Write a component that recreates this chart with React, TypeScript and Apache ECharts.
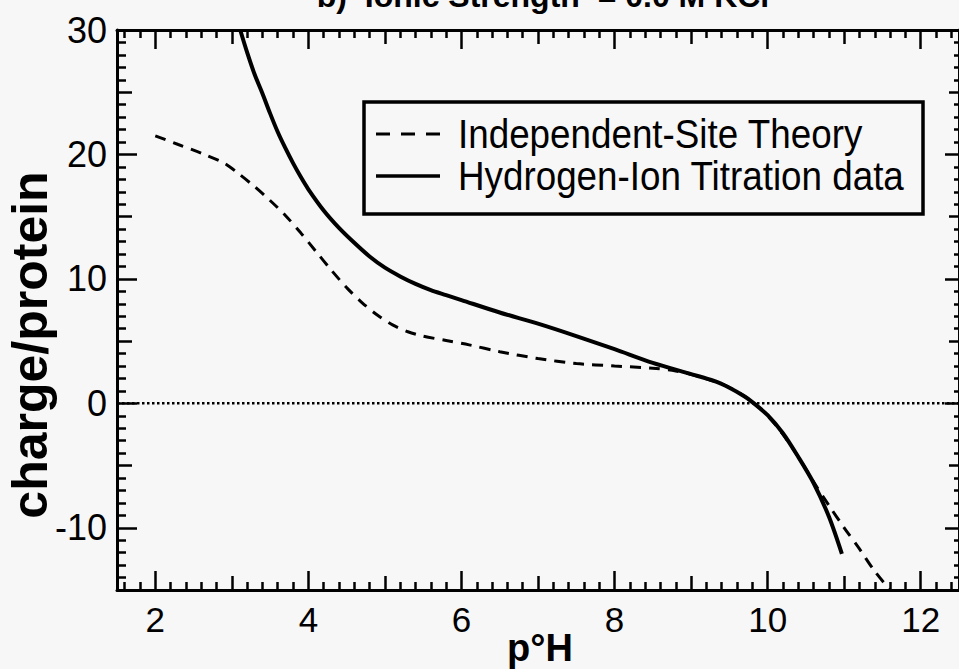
import React, { useEffect, useRef } from "react";
import * as echarts from "echarts";

// ---- data ----
const titrationName = "Hydrogen-Ion Titration data";
const theoryName = "Independent-Site Theory";
const titleText = "b)  Ionic Strength  = 0.0 M KCl";
const xAxisName = "p°H";
const yAxisName = "charge/protein";

const titrationX = [3.11, 3.2, 3.3, 3.4, 3.5, 3.6, 3.7, 3.8, 3.9, 4.0, 4.2, 4.4, 4.6, 4.8, 5.0, 5.2, 5.4, 5.6, 5.8, 6.0, 6.5, 7.0, 7.5, 8.0, 8.5, 9.0, 9.3, 9.5, 9.7, 9.8, 10.0, 10.2, 10.4, 10.6, 10.8, 10.97];
const titrationY = [30.0, 28.2, 26.4, 24.9, 23.3, 21.8, 20.5, 19.3, 18.2, 17.2, 15.5, 14.1, 12.9, 11.8, 10.9, 10.2, 9.6, 9.1, 8.7, 8.3, 7.3, 6.4, 5.4, 4.35, 3.25, 2.35, 1.8, 1.25, 0.55, 0.1, -0.95, -2.4, -4.3, -6.4, -9.1, -12.1];

const theoryX = [2.0, 2.3, 2.6, 2.9, 3.1, 3.3, 3.5, 3.7, 3.9, 4.1, 4.3, 4.5, 4.7, 4.9, 5.1, 5.3, 5.5, 5.8, 6.1, 6.5, 7.0, 7.5, 8.0, 8.5, 8.8, 9.1, 9.4, 9.6, 9.8, 10.0, 10.2, 10.4, 10.6, 10.8, 11.0, 11.2, 11.4, 11.6];
const theoryY = [21.5, 20.8, 20.1, 19.3, 18.4, 17.4, 16.3, 15.1, 13.7, 12.2, 10.7, 9.3, 8.1, 7.1, 6.3, 5.75, 5.4, 5.05, 4.7, 4.15, 3.6, 3.2, 3.0, 2.82, 2.6, 2.15, 1.55, 0.95, 0.1, -1.0, -2.5, -4.3, -6.3, -8.2, -10.0, -11.7, -13.5, -15.0];

const zeroLineX = [1.5, 12.5];
const zeroLineY = [0, 0];

const xMin = 1.5;
const xMax = 12.5;
const yMin = -15;
const yMax = 30;

const xMajorTicks = [2, 4, 6, 8, 10, 12];
const xMediumTicks = [3, 5, 7, 9, 11];
const yMajorTicks = [-10, 0, 10, 20, 30];
const yMediumTicks = [-5, 5, 15, 25];

function steps(from: number, to: number, step: number, skip: number[]) {
  const out: number[] = [];
  const n = Math.round((to - from) / step);
  for (let i = 0; i <= n; i++) {
    const v = Math.round((from + i * step) * 100) / 100;
    if (!skip.some((s) => Math.abs(s - v) < 1e-6)) out.push(v);
  }
  return out;
}
const xMinorTicks = steps(1.6, 12.4, 0.2, [...xMajorTicks, ...xMediumTicks]);
const yMinorTicks = steps(-14, 29, 1, [...yMajorTicks, ...yMediumTicks]);

const FONT = "'Liberation Sans', Arial, Helvetica, sans-serif";
const BG = "#f7f7f7";

function zip(xs: number[], ys: number[]) {
  return xs.map((x, i) => [x, ys[i]]);
}

function tickAxisX(position: string, values: number[], len: number, main = false, labels = false) {
  return {
    type: "value",
    position,
    min: xMin,
    max: xMax,
    axisLine: { show: main, onZero: false, lineStyle: { color: "#000", width: 3 } },
    axisTick: { show: true, inside: true, length: len, customValues: values, lineStyle: { color: "#000", width: 2.5 } },
    axisLabel: labels
      ? { show: true, customValues: xMajorTicks, margin: 12, color: "#000", fontSize: 35, fontFamily: FONT }
      : { show: false },
    splitLine: { show: false },
  };
}
function tickAxisY(position: string, values: number[], len: number, main = false, labels = false) {
  return {
    type: "value",
    position,
    min: yMin,
    max: yMax,
    axisLine: { show: main, onZero: false, lineStyle: { color: "#000", width: 3 } },
    axisTick: { show: true, inside: true, length: len, customValues: values, lineStyle: { color: "#000", width: 2.5 } },
    axisLabel: labels
      ? { show: true, customValues: yMajorTicks, margin: 10, color: "#000", fontSize: 36, fontFamily: FONT }
      : { show: false },
    splitLine: { show: false },
  };
}

export default function App() {
  const ref = useRef<HTMLDivElement>(null);
  useEffect(() => {
    document.body.style.margin = "0";
    if (!ref.current) return;
    const chart = echarts.init(ref.current, undefined, { renderer: "svg" });
    const option = {
      animation: false,
      backgroundColor: BG,
      grid: { left: 117, top: 30, right: -3, bottom: 79, containLabel: false },
      xAxis: [
        tickAxisX("bottom", xMajorTicks, 19, true, true),
        tickAxisX("bottom", xMediumTicks, 14),
        tickAxisX("bottom", xMinorTicks, 8),
        tickAxisX("top", xMajorTicks, 19, true),
        tickAxisX("top", xMediumTicks, 14),
        tickAxisX("top", xMinorTicks, 8),
      ],
      yAxis: [
        tickAxisY("left", yMajorTicks, 20, true, true),
        tickAxisY("left", yMediumTicks, 15),
        tickAxisY("left", yMinorTicks, 9),
        tickAxisY("right", yMajorTicks, 14, true),
        tickAxisY("right", yMediumTicks, 10),
        tickAxisY("right", yMinorTicks, 5),
      ],
      series: [
        {
          name: "zero",
          type: "line",
          data: zip(zeroLineX, zeroLineY),
          showSymbol: false,
          symbol: "none",
          silent: true,
          lineStyle: { color: "#000", width: 2.5, type: [2.5, 2.5] },
          z: 1,
        },
        {
          name: theoryName,
          type: "line",
          data: zip(theoryX, theoryY),
          symbol: "none",
          smooth: 0.3,
          lineStyle: { color: "#000", width: 3, type: [11, 8] },
          z: 2,
        },
        {
          name: titrationName,
          type: "line",
          data: zip(titrationX, titrationY),
          symbol: "none",
          smooth: 0.3,
          lineStyle: { color: "#000", width: 4 },
          z: 3,
        },
      ],
      graphic: [
        {
          type: "text",
          x: 543,
          y: -4,
          style: { text: titleText, font: `bold 32px ${FONT}`, fill: "#000", align: "center", verticalAlign: "middle" },
        },
        {
          type: "text",
          x: 30,
          y: 345,
          rotation: Math.PI / 2,
          style: { text: yAxisName, font: `bold 50px ${FONT}`, fill: "#000", align: "center", verticalAlign: "middle" },
        },
        {
          type: "text",
          x: 540,
          y: 648,
          style: { text: xAxisName, font: `bold 38px ${FONT}`, fill: "#000", align: "center", verticalAlign: "middle" },
        },
        {
          type: "group",
          z: 10,
          children: [
            {
              type: "rect",
              shape: { x: 364, y: 102, width: 559, height: 112 },
              style: { fill: BG, stroke: "#000", lineWidth: 3.5 },
            },
            {
              type: "line",
              shape: { x1: 376, y1: 134, x2: 440, y2: 134 },
              style: { stroke: "#000", lineWidth: 3, lineDash: [14, 11] },
            },
            {
              type: "line",
              shape: { x1: 376, y1: 176, x2: 440, y2: 176 },
              style: { stroke: "#000", lineWidth: 3.5 },
            },
            {
              type: "text",
              x: 458,
              y: 134,
              scaleX: 0.92,
              style: { text: theoryName, font: `40px ${FONT}`, fill: "#000", align: "left", verticalAlign: "middle" },
            },
            {
              type: "text",
              x: 458,
              y: 176,
              scaleX: 0.92,
              style: { text: titrationName, font: `40px ${FONT}`, fill: "#000", align: "left", verticalAlign: "middle" },
            },
          ],
        },
      ],
    };
    chart.setOption(option as any);
    return () => chart.dispose();
  }, []);
  return <div ref={ref} style={{ width: 959, height: 669 }} />;
}
